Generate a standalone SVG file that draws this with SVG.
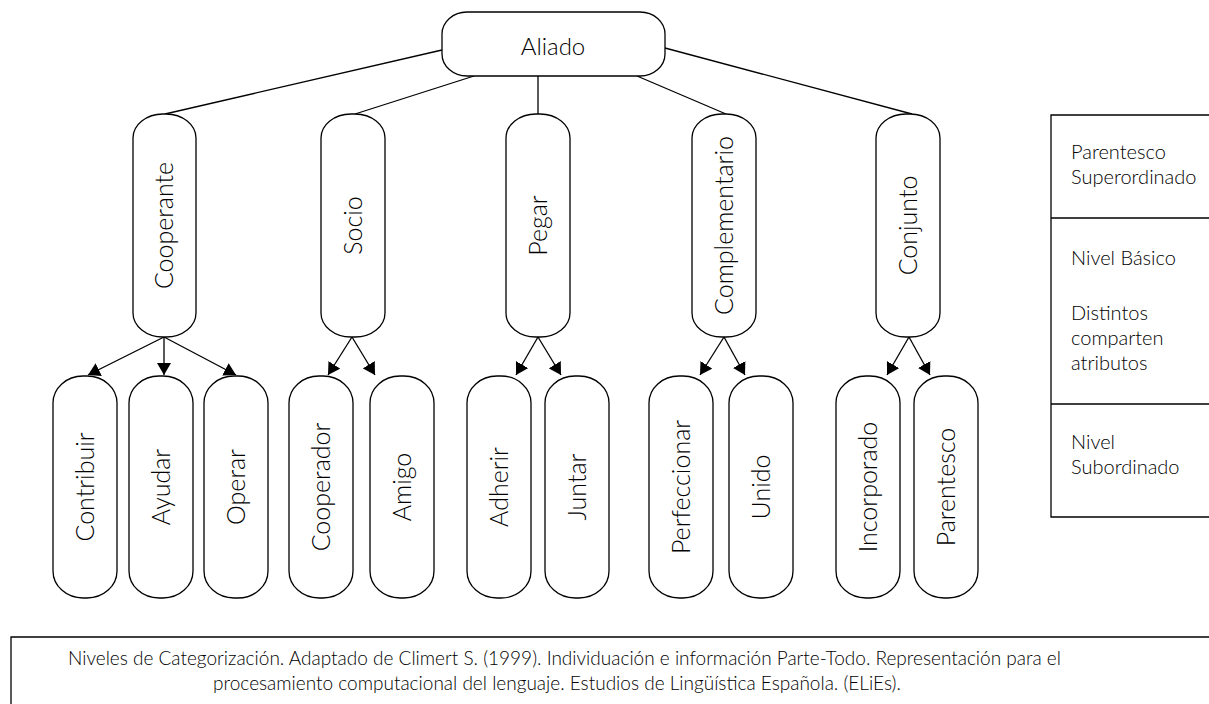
<svg xmlns="http://www.w3.org/2000/svg" width="1209" height="704" viewBox="0 0 1209 704">
<defs>
<style>
.box{fill:#fff;stroke:#000;stroke-width:1.3}
.t{font-family:Lato,"Liberation Sans",sans-serif;font-weight:300;fill:#000}
.n{font-size:25px;text-anchor:middle}
.a{font-size:24px;text-anchor:middle}
.s{font-size:20px}
.c{font-size:19px;text-anchor:middle}
.ln{stroke:#000;stroke-width:1.3;fill:none}
.ar{stroke:#000;stroke-width:1.3;fill:none;marker-end:url(#ah)}
.frame{stroke:#000;stroke-width:1.3;fill:none}
</style>
<marker id="ah" markerUnits="userSpaceOnUse" markerWidth="13" markerHeight="14" refX="12" refY="7" orient="auto">
<path d="M0,0 L12,7 L0,14 Z" fill="#000"/>
</marker>
</defs>

<g id="connectors">
<line class="ln" x1="442" y1="50" x2="165" y2="114"/>
<line class="ln" x1="474" y1="76" x2="355" y2="114"/>
<line class="ln" x1="538" y1="76" x2="538" y2="114"/>
<line class="ln" x1="637" y1="76" x2="726" y2="114"/>
<line class="ln" x1="665" y1="48" x2="912" y2="114"/>
<line class="ar" x1="164" y1="337" x2="88" y2="375"/>
<line class="ar" x1="164" y1="337" x2="164" y2="375"/>
<line class="ar" x1="164" y1="337" x2="236" y2="375"/>
<line class="ar" x1="352" y1="337" x2="328" y2="375"/>
<line class="ar" x1="352" y1="337" x2="375" y2="375"/>
<line class="ar" x1="538" y1="337" x2="516" y2="375"/>
<line class="ar" x1="538" y1="337" x2="561" y2="375"/>
<line class="ar" x1="724" y1="337" x2="700" y2="375"/>
<line class="ar" x1="724" y1="337" x2="745" y2="375"/>
<line class="ar" x1="909" y1="337" x2="887" y2="375"/>
<line class="ar" x1="909" y1="337" x2="930" y2="375"/>
</g>

<g id="aliado">
<rect class="box" x="442" y="12" width="223" height="64" rx="25" ry="22"/>
<text class="t a" x="553" y="55">Aliado</text>
</g>

<g id="cooperante">
<rect class="box" x="133" y="114" width="63" height="223" rx="30" ry="24"/>
<text class="t n" transform="translate(173 225.5) rotate(-90)">Cooperante</text>
</g>
<g id="socio">
<rect class="box" x="321" y="114" width="64" height="223" rx="30" ry="24"/>
<text class="t n" transform="translate(361.5 225.5) rotate(-90)">Socio</text>
</g>
<g id="pegar">
<rect class="box" x="506" y="114" width="64" height="223" rx="30" ry="24"/>
<text class="t n" transform="translate(546.5 225.5) rotate(-90)">Pegar</text>
</g>
<g id="complementario">
<rect class="box" x="692" y="114" width="64" height="223" rx="30" ry="24"/>
<text class="t n" transform="translate(732.5 225.5) rotate(-90)">Complementario</text>
</g>
<g id="conjunto">
<rect class="box" x="876" y="114" width="64" height="223" rx="30" ry="24"/>
<text class="t n" transform="translate(916.5 225.5) rotate(-90)">Conjunto</text>
</g>

<g id="contribuir">
<rect class="box" x="53" y="376" width="64" height="222" rx="30" ry="27"/>
<text class="t n" transform="translate(93.5 487) rotate(-90)">Contribuir</text>
</g>
<g id="ayudar">
<rect class="box" x="129" y="376" width="64" height="222" rx="30" ry="27"/>
<text class="t n" transform="translate(169.5 487) rotate(-90)">Ayudar</text>
</g>
<g id="operar">
<rect class="box" x="204" y="376" width="64" height="222" rx="30" ry="27"/>
<text class="t n" transform="translate(244.5 487) rotate(-90)">Operar</text>
</g>
<g id="cooperador">
<rect class="box" x="289" y="376" width="64" height="222" rx="30" ry="27"/>
<text class="t n" transform="translate(329.5 487) rotate(-90)">Cooperador</text>
</g>
<g id="amigo">
<rect class="box" x="370" y="376" width="64" height="222" rx="30" ry="27"/>
<text class="t n" transform="translate(410.5 487) rotate(-90)">Amigo</text>
</g>
<g id="adherir">
<rect class="box" x="467" y="376" width="64" height="222" rx="30" ry="27"/>
<text class="t n" transform="translate(507.5 487) rotate(-90)">Adherir</text>
</g>
<g id="juntar">
<rect class="box" x="545" y="376" width="64" height="222" rx="30" ry="27"/>
<text class="t n" transform="translate(585.5 487) rotate(-90)">Juntar</text>
</g>
<g id="perfeccionar">
<rect class="box" x="649" y="376" width="64" height="222" rx="30" ry="27"/>
<text class="t n" transform="translate(689.5 487) rotate(-90)">Perfeccionar</text>
</g>
<g id="unido">
<rect class="box" x="729" y="376" width="64" height="222" rx="30" ry="27"/>
<text class="t n" transform="translate(769.5 487) rotate(-90)">Unido</text>
</g>
<g id="incorporado">
<rect class="box" x="836" y="376" width="64" height="222" rx="30" ry="27"/>
<text class="t n" transform="translate(876.5 487) rotate(-90)">Incorporado</text>
</g>
<g id="parentesco">
<rect class="box" x="914" y="376" width="64" height="222" rx="30" ry="27"/>
<text class="t n" transform="translate(954.5 487) rotate(-90)">Parentesco</text>
</g>

<g id="legend">
<path class="frame" d="M1209,115 H1051 V517 H1209 M1051,218 H1209 M1051,404 H1209"/>
<text class="t s" x="1071" y="159">Parentesco</text>
<text class="t s" x="1071" y="184">Superordinado</text>
<text class="t s" x="1071" y="265">Nivel Básico</text>
<text class="t s" x="1071" y="320">Distintos</text>
<text class="t s" x="1071" y="345">comparten</text>
<text class="t s" x="1071" y="370">atributos</text>
<text class="t s" x="1071" y="449">Nivel</text>
<text class="t s" x="1071" y="474">Subordinado</text>
</g>

<g id="caption">
<path class="frame" d="M11,704 V637 H1209"/>
<text class="t c" x="564.5" y="665">Niveles de Categorización. Adaptado de Climert S. (1999). Individuación e información Parte-Todo. Representación para el</text>
<text class="t c" x="557" y="690">procesamiento computacional del lenguaje. Estudios de Lingüística Española. (ELiEs).</text>
</g>
</svg>
